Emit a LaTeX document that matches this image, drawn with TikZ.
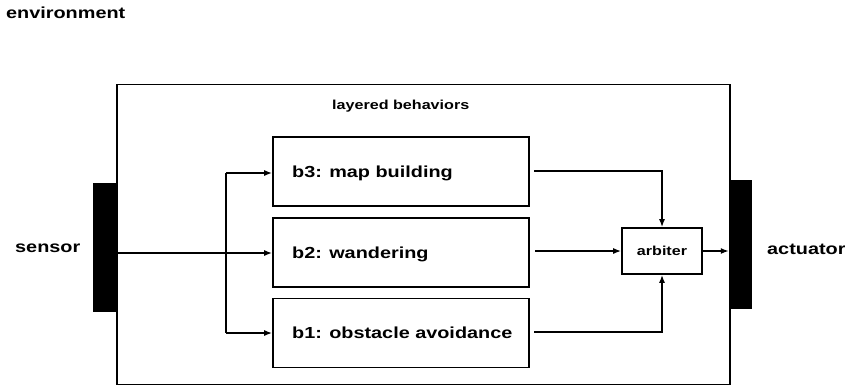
\documentclass[tikz,border=0pt]{standalone}
\usepackage{fontspec}
\setmainfont{Liberation Sans}[FakeStretch=1.24]
\usetikzlibrary{arrows.meta}
\tikzset{
  bbox/.style={draw, line width=1.6pt, minimum width=256pt, minimum height=69pt, inner sep=0pt},
  abox/.style={draw, line width=1.6pt, minimum width=80pt, minimum height=46pt, inner sep=0pt, font=\fontsize{13}{15}\selectfont\bfseries},
  bar/.style={fill=black, draw=none, inner sep=0pt, minimum width=23pt, minimum height=129pt},
  big/.style={font=\fontsize{16}{19}\selectfont\bfseries, inner sep=0pt, anchor=base west},
  small/.style={font=\fontsize{13}{15}\selectfont\bfseries, inner sep=0pt, anchor=base west},
  conn/.style={line width=1.5pt, -{Latex[length=8pt,width=6pt]}},
  plain/.style={line width=1.5pt}
}
\begin{document}
\begin{tikzpicture}[x=1pt,y=-1pt]
\useasboundingbox (0,0) rectangle (845,388);
% outer box
\node[draw, line width=1.6pt, minimum width=613pt, minimum height=300pt, inner sep=0pt] (outer) at (423.5,234.5) {};
\node[big] (env) at (6,18) {environment};
\node[small] (lay) at (332,109) {layered behaviors};
% sensor / actuator bars
\node[bar] (sbar) at (104.5,247.5) {};
\node[bar] (abar) at (740.5,244.5) {};
\node[big] (sens) at (15,252) {sensor};
\node[big] (act) at (767,254) {actuator};
% behaviour boxes
\node[bbox] (b3) at (401,171.5) {};
\node[bbox] (b2) at (401,252.5) {};
\node[bbox] (b1) at (401,333) {};
\node[big] (t3) at (292,177) {b3: map building};
\node[big] (t2) at (292,258) {b2: wandering};
\node[big] (t1) at (292,338) {b1: obstacle avoidance};
% arbiter
\node[abox] (arb) at (662,251) {arbiter};
% coordinates
\coordinate (s0) at (116,253);
\coordinate (vtop) at (226,173);
\coordinate (vbot) at (226,333);
\coordinate (o3) at (534,171);
\coordinate (o2) at (535,251);
\coordinate (o1) at (534,332);
% inputs
\draw[conn] (s0) -- (b2.west |- s0);
\draw[plain] (vtop) -- (vbot);
\draw[conn] (vtop) -- (b3.west |- vtop);
\draw[conn] (vbot) -- (b1.west |- vbot);
% outputs
\draw[conn] (o3) -| (arb.north);
\draw[conn] (o2) -- (arb.west |- o2);
\draw[conn] (o1) -| (arb.south);
\draw[conn] (arb.east) -- (abar.west |- arb.east);
\end{tikzpicture}
\end{document}
